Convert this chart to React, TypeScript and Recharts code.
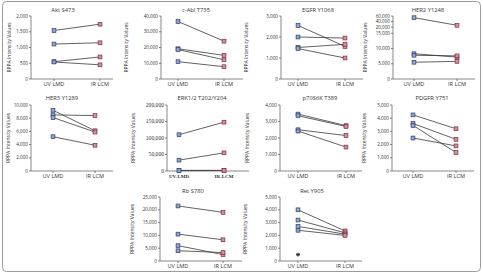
import React from "react";
import { LineChart, Line, XAxis, YAxis } from "recharts";

// x categories
const categories = ["UV LMD", "IR LCM"];
const erkCategories = ["UV-LMD", "IR-LCM"];

// values per marker pair: first array = UV LMD, second = IR LCM
const aktUv = [1540, 1110, 550, 540];
const aktIr = [1740, 1150, 700, 450];
const aktTicks = [0, 500, 1000, 1500, 2000];

const ablUv = [36500, 19200, 18700, 11000];
const ablIr = [24000, 15000, 12200, 7800];
const ablTicks = [0, 10000, 20000, 30000, 40000];

const egfrUv = [2550, 2000, 1500, 1450];
const egfrIr = [1550, 1950, 1650, 1000];
const egfrTicks = [0, 1000, 2000, 3000];

const her2Uv = [54000, 8300, 7800, 5500];
const her2Ir = [27000, 7200, 7600, 5800];
const her2Ticks = [0, 5000, 10000, 15000, 20000, 40000, 60000];

const her3Uv = [9200, 8500, 8100, 5200];
const her3Ir = [6100, 8400, 5900, 3900];
const her3Ticks = [0, 2000, 4000, 6000, 8000, 10000];

const erkUv = [110000, 33000, 2000, 1000];
const erkIr = [148000, 55000, 2000, 1500];
const erkTicks = [0, 50000, 100000, 150000, 200000];

const p70Uv = [3450, 3350, 2500, 2420];
const p70Ir = [2750, 2700, 2150, 1450];
const p70Ticks = [0, 1000, 2000, 3000, 4000];

const pdgfrUv = [4250, 3600, 3450, 2500];
const pdgfrIr = [3200, 2400, 1400, 1900];
const pdgfrTicks = [0, 1000, 2000, 3000, 4000, 5000];

const rbUv = [21500, 10500, 6000, 4000];
const rbIr = [19000, 8300, 2500, 3300];
const rbTicks = [0, 5000, 10000, 15000, 20000, 25000];

const retUv = [4000, 3200, 2700, 2400];
const retIr = [2350, 2200, 2100, 2000];
const retOutlier = 500;
const retTicks = [0, 1000, 2000, 3000, 4000, 5000];

const FONT = "'Open Sans', 'Liberation Sans', sans-serif";
const SERIF = "'Liberation Serif', 'DejaVu Serif', serif";

// HER2 panel uses a broken axis: 0-15,000 linear, then 20,000-60,000 compressed
const her2Break = (v: number) =>
  v <= 15000 ? v : v < 20000 ? 15000 + (v - 15000) * 0.4 : 17000 + (v - 20000) * 0.0925;

const SquareDot = (props: any) => {
  const { cx, cy, index } = props;
  if (cx == null || cy == null || Number.isNaN(cy)) return <g key={`e-${index}`} />;
  const uvSide = index === 0;
  return (
    <rect
      key={`d-${index}`}
      x={cx - 1.9}
      y={cy - 1.9}
      width={3.8}
      height={3.8}
      fill={uvSide ? "#8fa3cf" : "#d68e9e"}
      stroke={uvSide ? "#2f3f6f" : "#7a2f3f"}
      strokeWidth={0.7}
    />
  );
};

const StarDot = (props: any) => {
  const { cx, cy, index } = props;
  if (cx == null || cy == null || Number.isNaN(cy)) return <g key={`e-${index}`} />;
  return (
    <g key={`s-${index}`} stroke="#222" strokeWidth={0.9}>
      <line x1={cx - 2} y1={cy} x2={cx + 2} y2={cy} />
      <line x1={cx} y1={cy - 2} x2={cx} y2={cy + 2} />
      <line x1={cx - 1.4} y1={cy - 1.4} x2={cx + 1.4} y2={cy + 1.4} />
      <line x1={cx - 1.4} y1={cy + 1.4} x2={cx + 1.4} y2={cy - 1.4} />
    </g>
  );
};

type PanelProps = {
  title: string;
  uv: number[];
  ir: number[];
  ticks: number[];
  cats?: string[];
  axisX: number;
  uvOff: number;
  irOff: number;
  yTop: number;
  yZero: number;
  titleX: number;
  titleY: number;
  labelX: number;
  map?: (v: number) => number;
  serif?: boolean;
  outlier?: number;
};

const PLOT_W = 82;
const YW = 40;

function Panel(p: PanelProps) {
  const map = p.map ?? ((v: number) => v);
  const cats = p.cats ?? categories;
  const data = cats.map((c, i) => {
    const src = i === 0 ? p.uv : p.ir;
    const row: any = { name: c };
    src.forEach((v, k) => (row[`s${k}`] = map(v)));
    if (p.outlier != null) row.out = i === 0 ? map(p.outlier) : null;
    return row;
  });
  const tickVals = p.ticks.map(map);
  const labelOf = new Map(tickVals.map((d, i) => [d, p.ticks[i]]));
  const plotH = p.yZero - p.yTop;
  const tickFont = p.serif ? SERIF : FONT;
  return (
    <>
      <div style={{ position: "absolute", left: p.axisX - YW, top: p.yTop - 4 }}>
        <LineChart width={YW + PLOT_W + 2} height={plotH + 4 + 14} data={data} margin={{ top: 4, right: 2, left: 0, bottom: 0 }}>
          <XAxis
            dataKey="name"
            height={14}
            padding={{ left: p.uvOff, right: PLOT_W - p.irOff }}
            tickSize={2}
            tickMargin={1}
            stroke="#555"
            strokeWidth={0.7}
            tick={{ fontSize: p.serif ? 5 : 5.6, fill: "#333", fontFamily: tickFont, fontWeight: p.serif ? 700 : 400 }}
            interval={0}
          />
          <YAxis
            width={YW}
            type="number"
            domain={[0, tickVals[tickVals.length - 1]]}
            ticks={tickVals}
            interval={0}
            tickSize={2}
            tickMargin={1}
            stroke="#555"
            strokeWidth={0.7}
            tick={{ fontSize: p.serif ? 5.6 : 4.6, fill: "#333", fontFamily: tickFont }}
            tickFormatter={(v: number) => (labelOf.get(v) ?? v).toLocaleString("en-US")}
          />
          {p.uv.map((_, k) => (
            <Line
              key={k}
              dataKey={`s${k}`}
              stroke="#3a3a3a"
              strokeWidth={0.8}
              dot={SquareDot}
              activeDot={false}
              isAnimationActive={false}
            />
          ))}
          {p.outlier != null && (
            <Line dataKey="out" stroke="none" dot={StarDot} activeDot={false} isAnimationActive={false} />
          )}
        </LineChart>
      </div>
      <svg style={{ position: "absolute", left: 0, top: 0, pointerEvents: "none" }} width={483} height={273}>
        <text x={p.titleX} y={p.titleY} textAnchor="middle" dominantBaseline="central" fontSize={5.8} fill="#333" fontFamily={FONT}>
          {p.title}
        </text>
        <text
          transform={`translate(${p.labelX},${(p.yTop + p.yZero) / 2}) rotate(-90)`}
          textAnchor="middle"
          dominantBaseline="central"
          fontSize={5}
          fill="#333"
          fontFamily={FONT}
        >
          RPPA Intensity Values
        </text>
      </svg>
    </>
  );
}

export default function App() {
  return (
    <div style={{ position: "absolute", left: 0, top: 0, width: 483, height: 273, background: "#fff", overflow: "hidden" }}>
      <svg style={{ position: "absolute", left: 0, top: 0 }} width={483} height={273}>
        <rect x={2.5} y={1.5} width={478} height={270} rx={4} fill="none" stroke="#9a9a9a" strokeWidth={1} />
      </svg>
      <Panel title="Akt S473" uv={aktUv} ir={aktIr} ticks={aktTicks} axisX={31} uvOff={23} irOff={69} yTop={16} yZero={79} titleX={63} titleY={10} labelX={9} />
      <Panel title="c-Abl T735" uv={ablUv} ir={ablIr} ticks={ablTicks} axisX={161} uvOff={17} irOff={63} yTop={16} yZero={79} titleX={196} titleY={10} labelX={126} />
      <Panel title="EGFR Y1068" uv={egfrUv} ir={egfrIr} ticks={egfrTicks} axisX={281} uvOff={17} irOff={64} yTop={16} yZero={79} titleX={318} titleY={10} labelX={246} />
      <Panel title="HER2 Y1248" uv={her2Uv} ir={her2Ir} ticks={her2Ticks} axisX={393} uvOff={21} irOff={64} yTop={16} yZero={79} titleX={428} titleY={10} labelX={365} map={her2Break} />

      <Panel title="HER3 Y1289" uv={her3Uv} ir={her3Ir} ticks={her3Ticks} axisX={31} uvOff={22} irOff={64} yTop={105} yZero={171} titleX={62} titleY={98} labelX={8} />
      <Panel title="ERK1/2 T202/Y204" uv={erkUv} ir={erkIr} ticks={erkTicks} cats={erkCategories} axisX={167} uvOff={12} irOff={57} yTop={105} yZero={171} titleX={202} titleY={98} labelX={133} serif />
      <Panel title="p70S6K T389" uv={p70Uv} ir={p70Ir} ticks={p70Ticks} axisX={280} uvOff={18} irOff={66} yTop={105} yZero={171} titleX={320} titleY={98} labelX={247} />
      <Panel title="PDGFR Y751" uv={pdgfrUv} ir={pdgfrIr} ticks={pdgfrTicks} axisX={392} uvOff={21} irOff={64} yTop={105} yZero={171} titleX={432} titleY={98} labelX={364} />

      <Panel title="Rb S780" uv={rbUv} ir={rbIr} ticks={rbTicks} axisX={160} uvOff={18} irOff={63} yTop={197} yZero={261} titleX={193} titleY={191} labelX={132} />
      <Panel title="Ret Y905" uv={retUv} ir={retIr} ticks={retTicks} axisX={280} uvOff={18} irOff={65} yTop={197} yZero={261} titleX={312} titleY={191} labelX={245} outlier={retOutlier} />
    </div>
  );
}
